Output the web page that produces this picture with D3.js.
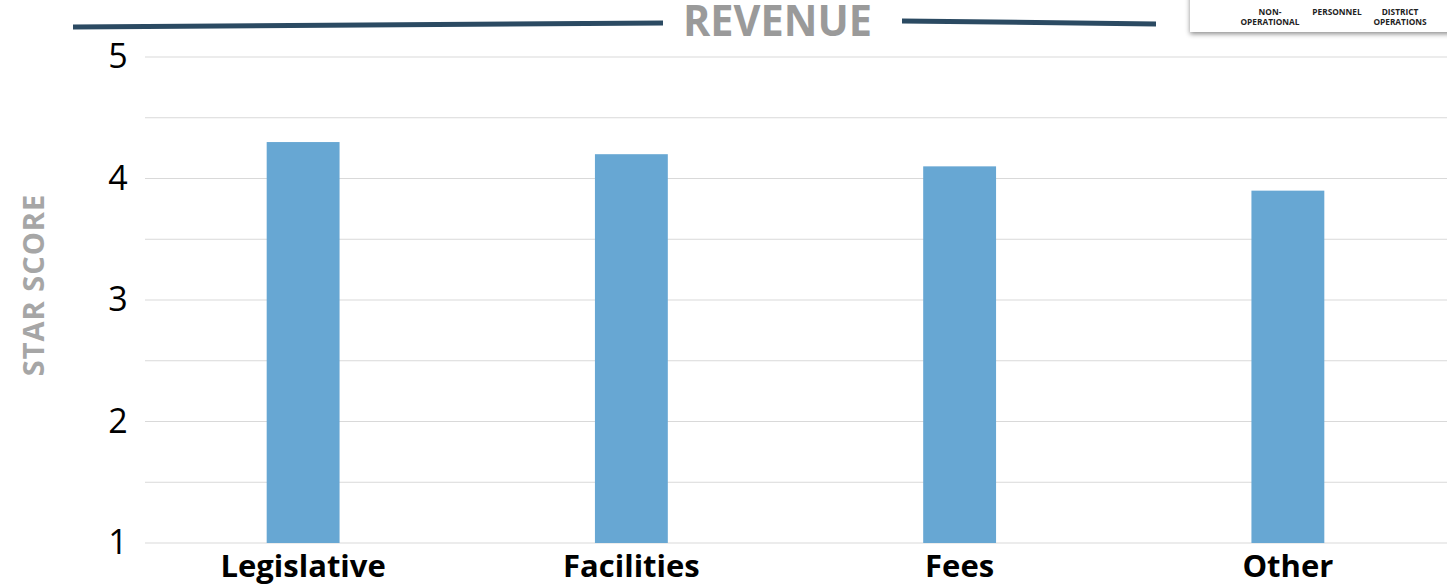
<!DOCTYPE html>
<html><head><meta charset="utf-8">
<script src="https://cdn.jsdelivr.net/npm/d3@7"></script>
<style>body{margin:0;background:#fff}svg{display:block}</style>
</head><body>
<svg id="c" width="1447" height="588"></svg>
<script>
const categories = ["Legislative", "Facilities", "Fees", "Other"];
const values = [4.3, 4.2, 4.1, 3.9];
const yTicks = [1, 2, 3, 4, 5];
const gridTicks = [1, 1.5, 2, 2.5, 3, 3.5, 4, 4.5, 5];
const insetLabels = [["NON-", "OPERATIONAL"], ["PERSONNEL"], ["DISTRICT", "OPERATIONS"]];

const svg = d3.select("#c");
const font = "'Open Sans', sans-serif";
const x = d3.scaleBand().domain(categories).range([139, 1452]).paddingInner(0.778).paddingOuter(0.389);
const y = d3.scaleLinear().domain([1, 5]).range([543, 57]);

// grid
svg.append("g").selectAll("line").data(gridTicks).join("line")
  .attr("x1", 145).attr("x2", 1447)
  .attr("y1", d => y(d)).attr("y2", d => y(d))
  .attr("stroke", "#d9d9d9").attr("stroke-width", 1.2);

// bars
svg.append("g").selectAll("rect").data(values).join("rect")
  .attr("x", (d, i) => x(categories[i]))
  .attr("width", x.bandwidth())
  .attr("y", d => y(d))
  .attr("height", d => y(1) - y(d))
  .attr("fill", "#67a7d3");

// y axis labels
const yAxis = svg.append("g").attr("transform", "translate(128,0)")
  .call(d3.axisLeft(y).tickValues(yTicks).tickSize(0).tickPadding(0).tickFormat(d3.format("d")));
yAxis.select(".domain").remove();
yAxis.selectAll("text").attr("font-family", font).attr("font-size", 34).attr("fill", "#000")
  .attr("text-anchor", "middle").attr("dx", -10);

// x axis labels
const xAxis = svg.append("g").attr("transform", "translate(0,555)")
  .call(d3.axisBottom(x).tickSize(0).tickPadding(0));
xAxis.select(".domain").remove();
xAxis.selectAll("text").attr("font-family", font).attr("font-size", 31).attr("font-weight", "bold")
  .attr("fill", "#000").attr("dy", "0.71em");

// y title
svg.append("text").attr("transform", "translate(44,285) rotate(-90)")
  .attr("text-anchor", "middle").attr("font-family", font).attr("font-weight", "bold")
  .attr("font-size", 29).attr("fill", "#a6a6a6").attr("letter-spacing", 1).text("STAR SCORE");

// title with lines
svg.append("line").attr("x1", 73).attr("y1", 27).attr("x2", 663).attr("y2", 23)
  .attr("stroke", "#2b4a62").attr("stroke-width", 5);
svg.append("line").attr("x1", 902).attr("y1", 21).attr("x2", 1156).attr("y2", 24)
  .attr("stroke", "#2b4a62").attr("stroke-width", 5);
svg.append("text").attr("x", 683).attr("y", 36)
  .attr("font-family", font).attr("font-weight", "bold").attr("font-size", 43)
  .attr("fill", "#9a9a9a").attr("textLength", 189).attr("lengthAdjust", "spacingAndGlyphs").text("REVENUE");

// inset
const defs = svg.append("defs");
const f = defs.append("filter").attr("id", "sh").attr("x", "-10%").attr("y", "-50%").attr("width", "120%").attr("height", "200%");
f.append("feDropShadow").attr("dx", 0).attr("dy", 2).attr("stdDeviation", 2.5).attr("flood-color", "#000").attr("flood-opacity", 0.45);
svg.append("rect").attr("x", 1190).attr("y", -10).attr("width", 270).attr("height", 42)
  .attr("fill", "#fff").attr("filter", "url(#sh)");
const insetX = [1270, 1337, 1400];
const ig = svg.append("g");
insetLabels.forEach((lines, i) => {
  const t = ig.append("text").attr("x", insetX[i]).attr("y", 15)
    .attr("text-anchor", "middle").attr("font-family", font).attr("font-weight", "bold")
    .attr("font-size", 8.3).attr("fill", "#222");
  lines.forEach((l, j) => t.append("tspan").attr("x", insetX[i]).attr("dy", j === 0 ? 0 : 10).text(l));
});
</script>
</body></html>
